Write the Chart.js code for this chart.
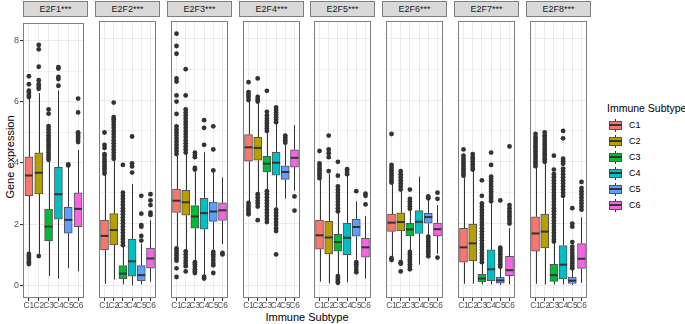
<!DOCTYPE html>
<html><head><meta charset="utf-8">
<script src="https://cdn.jsdelivr.net/npm/chart.js@4.4.1/dist/chart.umd.min.js"></script>
<style>
html,body{margin:0;padding:0;background:#fff;}
body{width:685px;height:324px;overflow:hidden;position:relative;font-family:"Liberation Sans",Arial,sans-serif;}
.strip{position:absolute;top:1px;height:14px;width:63px;background:#D9D9D9;border:1px solid #7F7F7F;font-size:9px;color:#1A1A1A;text-align:center;line-height:14px;}
.ytitle{position:absolute;left:10px;top:157px;transform:translate(-50%,-50%) rotate(-90deg);font-size:11px;white-space:nowrap;color:#000;}
.xtitle{position:absolute;left:307px;top:317px;transform:translate(-50%,-50%);font-size:11px;white-space:nowrap;color:#000;}
.ltitle{position:absolute;left:607px;top:101px;font-size:10.5px;color:#000;white-space:nowrap;line-height:14px;}
.key{position:absolute;left:608px;width:15px;height:15px;}
.key .wh{position:absolute;left:7px;top:1px;width:1px;height:13px;background:#333;}
.key .bx{position:absolute;left:1px;top:3px;width:11px;height:7px;border:1px solid #555;}
.key .md{position:absolute;left:1px;top:6px;width:13px;height:2px;background:#333;}
.klab{position:absolute;left:629px;font-size:9px;color:#000;line-height:12px;}
canvas{position:absolute;}
</style>
</head><body>
<div class="ytitle">Gene expression</div>
<div class="xtitle">Immune Subtype</div>
<div class="ltitle">Immune Subtype</div>
<script>
const genes = ['E2F1***','E2F2***','E2F3***','E2F4***','E2F5***','E2F6***','E2F7***','E2F8***'];
const subtypes = ['C1','C2','C3','C4','C5','C6'];
const yTicks = [0,1,2,3,4,5,6,7,8];
const colors = ['#F8766D','#B79F00','#00BA38','#00BFC4','#619CFF','#F564E3'];

// box statistics per gene (rows) and subtype (columns)
const lowWhisker = [
  [1.08,1.02,0.31,0.22,0.56,0.46],
  [0.05,0.19,0.03,0.00,0.03,0.12],
  [1.25,1.15,0.80,0.33,1.16,1.34],
  [2.72,3.00,3.10,2.50,2.81,3.07],
  [0.12,0.06,0.35,0.10,0.83,0.22],
  [0.91,0.81,1.13,0.67,1.62,1.02],
  [0.05,0.05,0.03,0.03,0.01,0.03],
  [0.05,0.03,0.03,0.03,0.01,0.08]
];
const q1 = [
  [2.93,2.99,1.45,2.16,1.71,1.92],
  [1.15,1.31,0.22,0.30,0.15,0.56],
  [2.36,2.27,1.85,1.82,2.07,2.10],
  [4.02,4.05,3.67,3.57,3.43,3.83],
  [1.17,1.02,1.11,0.99,1.59,0.91],
  [1.75,1.76,1.60,1.68,2.01,1.60],
  [0.75,0.79,0.11,0.15,0.07,0.31],
  [1.11,1.21,0.13,0.21,0.06,0.55]
];
const median = [
  [3.59,3.68,1.92,2.98,2.14,2.50],
  [1.60,1.79,0.38,0.78,0.33,0.87],
  [2.74,2.69,2.23,2.34,2.39,2.43],
  [4.47,4.45,3.94,3.97,3.67,4.13],
  [1.62,1.55,1.40,1.54,1.89,1.23],
  [2.03,2.05,1.81,2.06,2.21,1.82],
  [1.23,1.36,0.22,0.52,0.16,0.49],
  [1.68,1.74,0.33,0.67,0.15,0.86]
];
const q3 = [
  [4.20,4.33,2.49,3.86,2.55,3.02],
  [2.11,2.32,0.64,1.49,0.64,1.21],
  [3.12,3.08,2.58,2.82,2.70,2.67],
  [4.88,4.79,4.18,4.31,3.87,4.39],
  [2.11,2.07,1.65,2.01,2.14,1.52],
  [2.31,2.35,2.01,2.42,2.33,2.02],
  [1.85,1.98,0.36,1.15,0.26,0.94],
  [2.22,2.31,0.68,1.29,0.27,1.35]
];
const highWhisker = [
  [6.10,6.28,4.05,6.37,3.87,4.42],
  [3.58,4.05,1.25,3.28,1.35,2.11],
  [4.20,4.26,3.68,4.31,3.68,3.49],
  [5.95,5.90,4.95,5.22,4.56,5.19],
  [3.42,3.62,2.35,3.55,2.72,2.24],
  [3.28,3.05,2.42,3.52,2.78,2.60],
  [3.50,3.70,0.70,2.65,0.55,1.85],
  [3.82,3.95,1.38,2.82,0.50,2.20]
];
// outlying points per gene, per subtype
const outliers = [
  [
    [6.15,6.22,6.30,6.36,6.57,6.83,1.03,0.96,0.90,0.83,0.76,0.70],
    [6.42,6.49,6.57,6.70,7.14,7.71,7.85,0.96],
    [4.10,4.18,4.26,4.34,4.42,4.50,4.58,4.66,4.74,4.82,4.90,5.00,5.10,5.20,5.61,5.75],
    [6.52,6.74,6.81,7.08,7.13],
    [3.92,3.95],
    [4.68,4.75,4.82,4.88,4.95,5.00,5.65,6.10]
  ],
  [
    [3.62,3.70,3.78,3.86,3.94,4.02,4.10,4.20,4.25,4.45,4.55,4.95],
    [4.10,4.20,4.30,4.40,4.50,4.60,4.70,4.80,4.90,5.00,5.10,5.20,5.30,5.38,5.45,5.92],
    [1.30,1.40,1.50,1.60,1.70,1.80,1.90,2.00,2.10,2.20,2.30,2.40,2.50,2.60,2.70,2.80,2.90,3.00,3.90],
    [3.65,3.85,3.95,4.82],
    [1.45,1.60,1.90,1.95,2.32,2.90],
    [2.28,2.35,2.60,2.75,2.95]
  ],
  [
    [4.25,4.35,4.45,4.55,4.65,4.75,4.85,4.95,5.05,5.15,5.55,5.95,6.15,6.60,6.70,7.50,7.75,8.15,1.20,1.12,1.04,0.96,0.88,0.80,0.55,0.27],
    [4.30,4.40,4.50,4.60,4.70,4.80,4.90,5.00,5.10,5.20,5.30,5.40,5.50,5.60,5.70,6.15,7.00,1.10,1.00,0.90,0.80,0.70,0.62,0.45],
    [3.75,3.80,4.15,4.22,4.30,0.75,0.68,0.60,0.52,0.45,0.40],
    [4.55,5.10,5.35,0.28,0.22],
    [3.72,4.40,5.15,1.08,1.00,0.92,0.82,0.72,0.65,0.40],
    [1.05,1.00]
  ],
  [
    [6.00,6.10,6.18,6.26,6.58,2.67,2.58,2.50,2.42,2.35,2.30],
    [5.95,6.02,6.10,6.70,2.95,2.85,2.75,2.65,2.55,2.11],
    [5.00,5.08,5.16,5.24,5.32,5.40,5.50,5.62,6.30,3.05,2.95,2.85,2.75,2.65,2.55,2.45,2.35,2.25,2.15,2.05],
    [5.28,5.36,5.44,5.52,5.60,5.68,5.76,2.45,2.35,2.25,2.15,2.05,1.95,1.85,1.76,1.00],
    [4.62,4.70,4.78,4.85],
    [2.88,2.42]
  ],
  [
    [3.47,3.55,3.63,3.71,3.79,3.87,3.95,4.35],
    [3.70,4.15,4.28,4.40,4.85],
    [2.40,2.50,2.60,2.70,2.80,2.90,3.00,3.10,3.20,3.55,4.00,0.30,0.24,0.18,0.12,0.08],
    [3.60,3.68,3.76],
    [3.05,0.75,0.68,0.60,0.50,0.42],
    [2.62,2.90,2.97]
  ],
  [
    [3.33,3.40,3.48,3.56,3.64,3.72,3.80,3.90,4.90,0.88,0.82],
    [3.10,3.20,3.30,3.40,3.50,3.60,3.70,0.75,0.70,0.45],
    [2.48,2.56,2.64,2.72,2.80,3.10,1.08,1.00,0.92,0.84,0.76,0.68,0.60,0.52],
    [],
    [2.82,2.88,1.58,1.50,1.42,1.34,1.26,1.18,1.10,1.02,0.94],
    [2.80,3.00,0.90]
  ],
  [
    [3.55,3.63,3.71,3.79,3.87,3.95,4.03,4.11,4.20,4.40],
    [3.75,3.83,3.91,3.99,4.07,4.15,4.25],
    [0.75,0.85,0.95,1.05,1.15,1.25,1.35,1.45,1.55,1.65,1.75,1.85,1.95,2.05,2.15,2.25,2.35,2.45,2.55,2.65,2.90,3.40],
    [2.72,2.80,2.88,2.96,3.04,3.12,3.20,3.28,3.36,3.44,3.52,3.90,4.30],
    [0.60,0.68,0.76,0.84,0.92,1.00,1.08,1.16,1.22,2.75],
    [2.00,2.08,2.16,2.24,2.32,2.40,2.50,2.60,4.50]
  ],
  [
    [3.86,3.94,4.02,4.10,4.18,4.26,4.34,4.42,4.50,4.58,4.66,4.74,4.80,4.90],
    [4.00,4.08,4.16,4.24,4.32,4.40,4.48,4.56,4.64,4.72,4.80,4.85,4.95],
    [1.42,1.50,1.60,1.70,1.80,1.90,2.00,2.10,2.20,2.30,2.40,2.50,2.60,2.70,2.80,2.90,3.00,3.10,3.20,3.30,3.40,3.50,3.60,3.75,4.20],
    [2.90,3.00,3.10,3.20,3.30,3.40,3.50,3.60,3.70,3.78,3.94,4.02,4.10,4.76,5.00],
    [0.55,0.63,0.71,0.79,0.87,0.95,1.05,1.15,1.25,1.40,1.90,2.00,2.50],
    [2.45,2.55,2.65,2.75,2.85,2.95,3.05,3.15,3.35]
  ]
];

const FONT = '"Liberation Sans", Arial, sans-serif';
const PANEL_W = 65, PANEL_TOP = 17, PANEL_H = 281, XAXIS_H = 16, YAXIS_W = 23;
function panelLeft(i){ return Math.round(23 + i*71.86); }

// strips & legend
genes.forEach((g,i)=>{
  const d=document.createElement('div'); d.className='strip'; d.style.left=panelLeft(i)+'px'; d.textContent=g; document.body.appendChild(d);
});
subtypes.forEach((s,k)=>{
  const cy = 125 + 16*k;
  const key=document.createElement('div'); key.className='key'; key.style.top=(cy-7)+'px';
  key.innerHTML='<div class="wh"></div><div class="bx" style="background:'+colors[k]+'"></div><div class="md"></div>';
  document.body.appendChild(key);
  const l=document.createElement('div'); l.className='klab'; l.style.top=(cy-6)+'px'; l.textContent=s; document.body.appendChild(l);
});

function boxPlugin(i){
  return {
    id:'boxplot'+i,
    beforeDatasetsDraw(chart){
      const {ctx, scales:{x,y}} = chart;
      ctx.save(); ctx.strokeStyle='#333'; ctx.lineWidth=1;
      subtypes.forEach((s,j)=>{
        const px = Math.round(x.getPixelForValue(j+1))+0.5;
        ctx.beginPath();
        ctx.moveTo(px, y.getPixelForValue(lowWhisker[i][j])); ctx.lineTo(px, y.getPixelForValue(q1[i][j]));
        ctx.moveTo(px, y.getPixelForValue(q3[i][j])); ctx.lineTo(px, y.getPixelForValue(highWhisker[i][j]));
        ctx.stroke();
      });
      ctx.restore();
    },
    afterDatasetDraw(chart, args){
      if(args.index!==0) return;
      const {ctx, scales:{y}} = chart;
      ctx.save(); ctx.strokeStyle='#333'; ctx.lineWidth=2;
      args.meta.data.forEach((bar,j)=>{
        const p = bar.getProps(['x','width'], true);
        const py = y.getPixelForValue(median[i][j]);
        ctx.beginPath(); ctx.moveTo(p.x-p.width/2, py); ctx.lineTo(p.x+p.width/2, py); ctx.stroke();
      });
      ctx.restore();
    },
    afterDraw(chart){
      const {ctx, chartArea:a} = chart;
      ctx.save(); ctx.strokeStyle='#7F7F7F'; ctx.lineWidth=1;
      ctx.strokeRect(Math.round(a.left)+0.5, Math.round(a.top)+0.5, Math.round(a.right-a.left)-1, Math.round(a.bottom-a.top)-1);
      ctx.restore();
    }
  };
}

genes.forEach((g,i)=>{
  const first = i===0;
  const w = PANEL_W + (first?YAXIS_W:0), h = PANEL_H + XAXIS_H;
  const cv=document.createElement('canvas');
  cv.width=w; cv.height=h;
  cv.style.left=(panelLeft(i)-(first?YAXIS_W:0))+'px'; cv.style.top=PANEL_TOP+'px';
  cv.style.width=w+'px'; cv.style.height=h+'px';
  document.body.appendChild(cv);
  const boxes = subtypes.map((s,j)=>({x:j+1, y:[q1[i][j], q3[i][j]]}));
  const pts=[]; outliers[i].forEach((arr,j)=>arr.forEach(v=>pts.push({x:j+1,y:v})));
  new Chart(cv,{
    type:'bar',
    data:{datasets:[
      {type:'bar', data:boxes, backgroundColor:colors, borderColor:'#555', borderWidth:1, borderSkipped:false, barThickness:8, order:2},
      {type:'scatter', data:pts, pointRadius:2.4, pointBackgroundColor:'#333', pointBorderWidth:0, pointBorderColor:'#333', order:1}
    ]},
    options:{
      responsive:false, animation:false, devicePixelRatio:1,
      layout:{padding:0},
      plugins:{legend:{display:false}, tooltip:{enabled:false}, title:{display:false}},
      scales:{
        x:{type:'linear', min:0.4, max:6.6, offset:false, bounds:'data',
          afterBuildTicks:s=>{ s.ticks = subtypes.map((_,j)=>({value:j+1})); },
          afterFit:s=>{ s.height = XAXIS_H; },
          ticks:{callback:v=>subtypes[v-1], font:{size:8.3, family:FONT}, color:'#4D4D4D', padding:0, autoSkip:false, maxRotation:0, minRotation:0},
          grid:{color:'#EBEBEB', lineWidth:1, drawTicks:true, tickLength:3, tickColor:'#333', offset:false},
          border:{display:false}
        },
        y:{type:'linear', min:-0.41, max:8.56,
          afterBuildTicks:s=>{ s.ticks = yTicks.map(v=>({value:v})); },
          afterFit:s=>{ s.width = first?YAXIS_W:0; },
          ticks:{display:first, callback:v=>(v%2===0?String(v):''), font:{size:8.8, family:FONT}, color:'#4D4D4D', padding:1},
          grid:{color:'#EBEBEB', lineWidth:c=>(c.tick && c.tick.value%2 ? 0.6 : 1.1), drawTicks:first, tickLength:3,
                tickColor:c=>(c.tick && c.tick.value%2 ? 'rgba(0,0,0,0)' : '#333')},
          border:{display:false}
        }
      }
    },
    plugins:[boxPlugin(i)]
  });
});
</script>
</body></html>
